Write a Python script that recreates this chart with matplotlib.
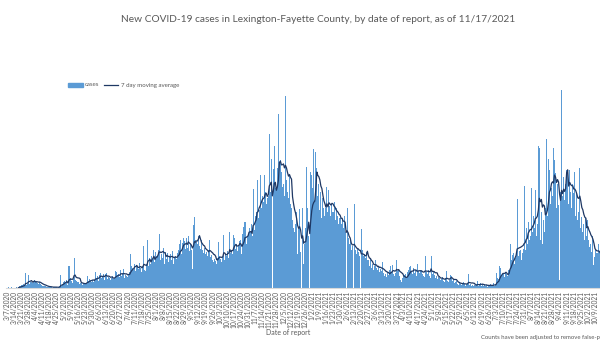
import numpy as np
import pandas as pd
import matplotlib
matplotlib.use("Agg")
import matplotlib.pyplot as plt
from matplotlib.patches import Rectangle
from matplotlib.lines import Line2D

# ---------------- data ----------------
start_date = "2020-03-07"
end_date = "2021-11-17"
ma_start_date = "2020-03-18"
last_label_date = "2021-10-09"
title = "New COVID-19 cases in Lexington-Fayette County, by date of report, as of 11/17/2021"
x_label = "Date of report"
footnote = "Counts have been adjusted to remove false-positive results."
legend_labels = ["cases", "7 day moving average"]

# daily new cases, one row per week starting Saturday 3/7/2020
weekly_cases = [
    [0, 2, 0, 0, 2, 0, 0],
    [0, 0, 2, 0, 3, 5, 4],
    [8, 7, 9, 6, 38, 8, 10],
    [33, 10, 16, 14, 12, 17, 20],
    [17, 15, 12, 10, 14, 9, 8],
    [6, 5, 4, 6, 3, 2, 3],
    [2, 3, 2, 1, 3, 2, 2],
    [2, 1, 3, 4, 33, 6, 10],
    [14, 18, 12, 20, 8, 55, 25],
    [18, 12, 22, 75, 20, 18, 15],
    [14, 10, 12, 13, 8, 12, 10],
    [12, 10, 30, 18, 22, 20, 16],
    [20, 16, 20, 40, 25, 30, 18],
    [32, 38, 25, 30, 36, 20, 35],
    [38, 22, 28, 24, 20, 26, 30],
    [22, 25, 42, 40, 30, 35, 28],
    [45, 30, 38, 48, 25, 32, 30],
    [28, 35, 40, 85, 55, 50, 45],
    [60, 42, 58, 55, 48, 62, 50],
    [40, 55, 105, 45, 42, 60, 120],
    [55, 75, 60, 80, 70, 95, 65],
    [90, 80, 95, 135, 70, 85, 75],
    [100, 60, 90, 72, 88, 65, 80],
    [85, 70, 92, 60, 78, 80, 72],
    [88, 95, 110, 120, 85, 112, 125],
    [118, 98, 125, 100, 130, 92, 110],
    [95, 48, 158, 178, 120, 115, 110],
    [130, 105, 98, 120, 95, 88, 100],
    [85, 90, 80, 95, 120, 78, 82],
    [70, 65, 72, 68, 60, 75, 115],
    [80, 72, 65, 78, 132, 70, 85],
    [80, 92, 75, 140, 88, 95, 85],
    [132, 125, 98, 110, 92, 105, 118],
    [120, 85, 135, 152, 165, 110, 130],
    [135, 150, 140, 160, 130, 248, 145],
    [180, 190, 270, 175, 195, 282, 200],
    [230, 215, 282, 240, 210, 225, 230],
    [385, 240, 322, 0, 298, 355, 250],
    [245, 300, 435, 315, 320, 290, 252],
    [260, 230, 480, 270, 240, 225, 280],
    [210, 200, 170, 150, 140, 160, 190],
    [85, 150, 198, 90, 0, 200, 60],
    [110, 150, 302, 200, 130, 0, 290],
    [282, 250, 348, 220, 340, 300, 230],
    [260, 195, 240, 175, 225, 200, 180],
    [200, 252, 190, 245, 205, 180, 210],
    [190, 215, 170, 200, 180, 160, 175],
    [175, 160, 170, 150, 180, 140, 0],
    [200, 125, 110, 120, 95, 105, 0],
    [210, 95, 85, 100, 90, 80, 0],
    [148, 95, 80, 85, 75, 90, 70],
    [70, 55, 72, 50, 60, 45, 55],
    [70, 50, 45, 55, 40, 48, 42],
    [65, 38, 30, 35, 28, 40, 32],
    [45, 55, 40, 58, 35, 30, 38],
    [70, 42, 48, 30, 20, 15, 25],
    [30, 32, 35, 28, 40, 45, 52],
    [55, 40, 35, 50, 38, 45, 30],
    [60, 42, 38, 45, 35, 30, 28],
    [80, 40, 35, 45, 30, 25, 80],
    [35, 40, 32, 25, 30, 22, 28],
    [25, 20, 22, 28, 18, 15, 25],
    [42, 18, 15, 20, 32, 30, 18],
    [22, 12, 15, 18, 10, 8, 12],
    [10, 8, 12, 15, 9, 6, 10],
    [12, 35, 8, 10, 6, 8, 5],
    [8, 5, 10, 18, 6, 7, 12],
    [6, 9, 4, 10, 5, 8, 3],
    [8, 6, 10, 5, 7, 12, 6],
    [10, 38, 25, 22, 55, 50, 30],
    [35, 38, 28, 40, 35, 30, 45],
    [110, 70, 82, 88, 60, 75, 85],
    [222, 80, 92, 95, 70, 88, 98],
    [255, 95, 150, 110, 165, 120, 130],
    [250, 140, 180, 150, 245, 130, 160],
    [355, 350, 120, 190, 110, 170, 140],
    [200, 372, 180, 322, 295, 210, 250],
    [230, 350, 320, 287, 200, 260, 207],
    [20, 240, 495, 230, 278, 220, 260],
    [295, 290, 210, 295, 240, 200, 260],
    [238, 290, 180, 240, 170, 190, 300],
    [150, 178, 140, 160, 120, 175, 130],
    [170, 120, 103, 110, 90, 130, 58],
    [78, 95, 88, 110, 87, 100, 80],
]

cases = [v for week in weekly_cases for v in week]
dates = pd.date_range(start_date, periods=len(cases), freq="D")
series = pd.Series(cases, index=dates, dtype=float)
moving_avg = series.rolling(7).mean()
moving_avg[moving_avg.index < pd.Timestamp(ma_start_date)] = np.nan

tick_dates = pd.date_range(start_date, last_label_date, freq="7D")
tick_labels = [f"{d.month}/{d.day}/{d.year}" for d in tick_dates]

# ---------------- style ----------------
BAR_COLOR = "#5B9BD5"
LINE_COLOR = "#1F3864"
TEXT_COLOR = "#595959"
FONT = ["Lato", "DejaVu Sans"]
plt.rcParams["font.family"] = FONT

W, H = 600, 343
fig = plt.figure(figsize=(W / 100, H / 100), dpi=100)

px_per_day = 1.0115
x0 = 7.3
left_px = x0 - 1.0 * px_per_day
n_days_total = (pd.Timestamp(end_date) - pd.Timestamp(start_date)).days
right_px = x0 + (n_days_total + 0.5) * px_per_day
base_px = 288.0
ymax = 500
top_px = base_px - ymax / 2.5

ax = fig.add_axes([left_px / W, (H - base_px) / H,
                   (right_px - left_px) / W, (base_px - top_px) / H])
ax.bar(dates, cases, width=1.0, color=BAR_COLOR, linewidth=0, align="center")
ax.plot(dates, moving_avg, color=LINE_COLOR, lw=0.9)

ax.set_xlim(pd.Timestamp(start_date) - pd.Timedelta(days=1),
            pd.Timestamp(end_date) + pd.Timedelta(hours=12))
ax.set_ylim(0, ymax)
ax.set_yticks([])
ax.set_xticks(tick_dates)
ax.set_xticklabels(tick_labels, rotation=90, fontsize=4.8, color=TEXT_COLOR)
ax.tick_params(axis="x", length=0, pad=2.2)
for s in ["top", "right", "left"]:
    ax.spines[s].set_visible(False)
ax.spines["bottom"].set_color("#D9D9D9")
ax.spines["bottom"].set_linewidth(0.8)
ax.set_facecolor("none")

# title, axis label, footnote
fig.text(318 / W, 1 - 19 / H, title, ha="center", va="center",
         fontsize=7.3, color=TEXT_COLOR)
fig.text(288 / W, 1 - 332 / H, x_label, ha="center", va="center",
         fontsize=5, color=TEXT_COLOR)
fig.text(481 / W, 1 - 337.5 / H, footnote, ha="left", va="center",
         fontsize=4.3, color=TEXT_COLOR)

# legend
ly = 1 - 85 / H
fig.patches.append(Rectangle((68 / W, ly - 1.8 / H), 15 / W, 3.6 / H,
                             transform=fig.transFigure, color=BAR_COLOR))
fig.text(85 / W, ly, legend_labels[0], ha="left", va="center",
         fontsize=4.4, color=TEXT_COLOR)
fig.lines.append(Line2D([104 / W, 118 / W], [ly, ly], transform=fig.transFigure,
                        color=LINE_COLOR, lw=0.9))
fig.text(121 / W, ly, legend_labels[1], ha="left", va="center",
         fontsize=4.4, color=TEXT_COLOR)

fig.savefig("out.png", dpi=100)
